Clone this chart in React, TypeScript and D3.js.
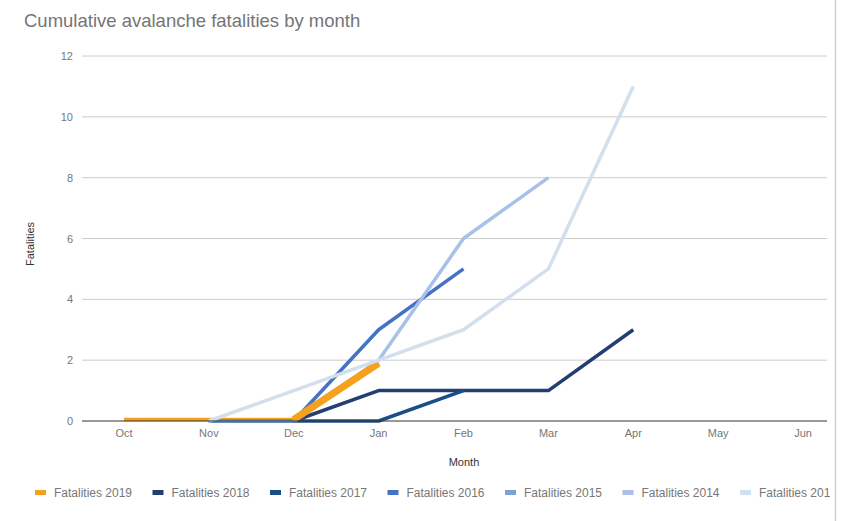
import React from "react";
import * as d3 from "d3";

const months = ["Oct", "Nov", "Dec", "Jan", "Feb", "Mar", "Apr", "May", "Jun"];
const yTicks = [0, 2, 4, 6, 8, 10, 12];

const seriesNames = [
  "Fatalities 2019",
  "Fatalities 2018",
  "Fatalities 2017",
  "Fatalities 2016",
  "Fatalities 2015",
  "Fatalities 2014",
  "Fatalities 2013",
];
const seriesColors = ["#f4a11d", "#233e72", "#1b4e87", "#4473c5", "#7ca2d2", "#a9c0e8", "#d2dfec"];

// values aligned with months (null = no data)
const v2019 = [0.05, 0.05, 0.05, 1.9, null, null, null, null, null];
const v2018 = [null, 0, 0, 1, 1, 1, 3, null, null];
const v2017 = [null, 0, 0, 0, 1, null, null, null, null];
const v2016 = [null, null, 0, 3, 5, null, null, null, null];
const v2015 = [null, 0, 0, null, null, null, null, null, null];
const v2014 = [null, null, 0, 2, 6, 8, null, null, null];
const v2013 = [null, 0, 1, 2, 3, 5, 11, null, null];
const seriesValues = [v2019, v2018, v2017, v2016, v2015, v2014, v2013];

const W = 845;
const H = 521;

export default function App() {
  const x = d3.scalePoint<string>().domain(months).range([124, 803]);
  const y = d3.scaleLinear().domain([0, 12]).range([421, 56]);
  const line = d3
    .line<number | null>()
    .defined((d) => d !== null)
    .x((_, i) => x(months[i]) as number)
    .y((d) => y(d as number));

  const font = "'Liberation Sans', Arial, sans-serif";

  // orange wedge segment Dec -> Jan (drawn above the 2014 line, below 2013)
  const wedge = line(v2019.map((d, i) => (i >= 2 && i <= 3 ? d : null)));

  return (
    <svg width={W} height={H} style={{ position: "absolute", left: 0, top: 0, background: "#fff" }} fontFamily={font}>
      <defs>
        <clipPath id="legclip">
          <rect x={0} y={470} width={830} height={40} />
        </clipPath>
      </defs>
      <rect x={0} y={0} width={W} height={H} fill="#fff" />
      <line x1={835.5} x2={835.5} y1={0} y2={H} stroke="#cfcfcf" strokeWidth={1.5} />
      <text x={24} y={27} fontSize={18.5} fill="#757575">
        Cumulative avalanche fatalities by month
      </text>
      {yTicks.map((t) => (
        <g key={t}>
          {t !== 0 && <line x1={82} x2={827} y1={y(t)} y2={y(t)} stroke="#cccccc" strokeWidth={1} />}
          <text x={73} y={y(t) + 4} fontSize={11} fill="#777" textAnchor="end">
            {t}
          </text>
        </g>
      ))}
      {months.map((m) => (
        <text key={m} x={x(m)} y={437} fontSize={11} fill="#777" textAnchor="middle">
          {m}
        </text>
      ))}
      <text x={464} y={466} fontSize={11} fill="#333" textAnchor="middle">
        Month
      </text>
      <text transform={`translate(34,244) rotate(-90)`} fontSize={11} fill="#333" textAnchor="middle">
        Fatalities
      </text>
      {seriesValues.map((vals, i) => (
        <g key={seriesNames[i]}>
          {i === 6 && <path d={wedge || ""} fill="none" stroke={seriesColors[0]} strokeWidth={7} />}
          <path d={line(vals) || ""} fill="none" stroke={seriesColors[i]} strokeWidth={3.5} strokeLinejoin="round" />
        </g>
      ))}
      <line x1={82} x2={827} y1={421} y2={421} stroke="#333" strokeWidth={1} />
      <g clipPath="url(#legclip)">
        {seriesNames.map((n, i) => {
          const lx = 35 + i * 117.5;
          return (
            <g key={n}>
              <rect x={lx} y={490} width={11} height={5} fill={seriesColors[i]} />
              <text x={lx + 19} y={497} fontSize={12} fill="#777">
                {n}
              </text>
            </g>
          );
        })}
      </g>
    </svg>
  );
}
